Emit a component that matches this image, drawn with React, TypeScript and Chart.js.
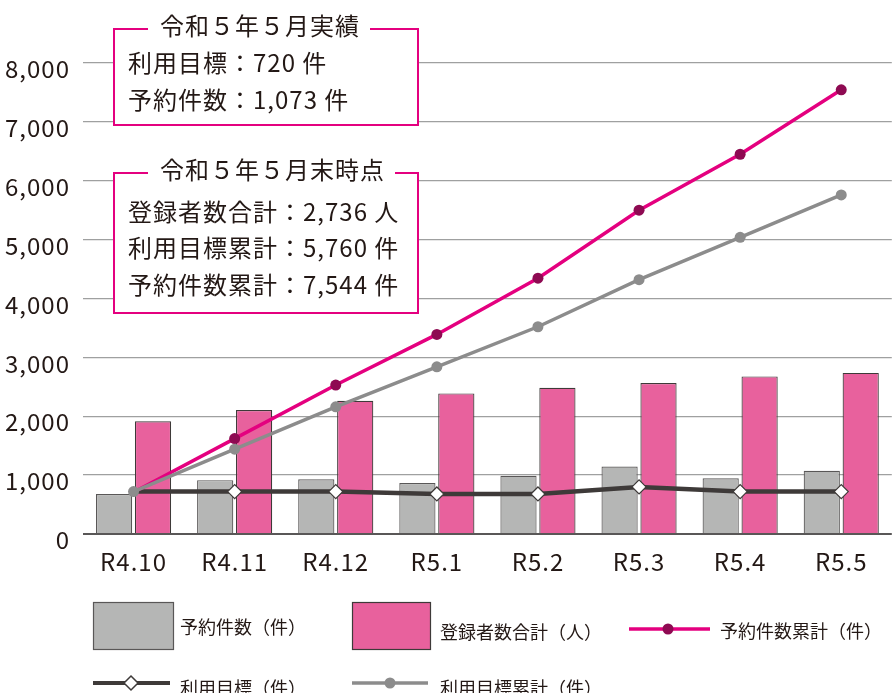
import React, { useEffect, useRef } from 'react';
import { Chart, registerables } from 'chart.js';

Chart.register(...registerables);

const categories = ['R4.10', 'R4.11', 'R4.12', 'R5.1', 'R5.2', 'R5.3', 'R5.4', 'R5.5'];
const bookings = [680, 915, 930, 865, 990, 1145, 945, 1073];
const registrants = [1913, 2105, 2263, 2388, 2484, 2564, 2677, 2736];
const bookingsCum = [710, 1620, 2530, 3390, 4345, 5500, 6450, 7544];
const targets = [720, 720, 720, 680, 680, 800, 720, 720];
const targetsCum = [720, 1440, 2160, 2840, 3520, 4320, 5040, 5760];
const yMin = 0;
const yMax = 8000;
const yStep = 1000;

const seriesNames = ['予約件数（件）', '登録者数合計（人）', '予約件数累計（件）', '利用目標（件）', '利用目標累計（件）'];
const box1Title = '令和５年５月実績';
const box1Lines = ['利用目標：720 件', '予約件数：1,073 件'];
const box2Title = '令和５年５月末時点';
const box2Lines = ['登録者数合計：2,736 人', '利用目標累計：5,760 件', '予約件数累計：7,544 件'];

const FONT = '"Noto Sans CJK JP", "Noto Sans", sans-serif';
const TEXT = '#231815';
const GRAY_BAR = '#b5b6b5';
const PINK_BAR = '#e8619d';
const MAGENTA = '#e4007f';
const MAROON = '#8e0a52';
const DARK = '#3e3a39';
const MID_GRAY = '#8c8c8c';

function drawBox(ctx: any, x: number, y: number, w: number, h: number, title: string, lines: string[], lineY: number[]) {
  ctx.save();
  ctx.letterSpacing = '1px';
  ctx.fillStyle = '#ffffff';
  ctx.fillRect(x, y, w, h);
  ctx.strokeStyle = MAGENTA;
  ctx.lineWidth = 2;
  ctx.strokeRect(x, y, w, h);
  ctx.font = `24px ${FONT}`;
  const tw = ctx.measureText(title).width;
  const tx = x + 46;
  ctx.fillStyle = '#ffffff';
  ctx.fillRect(tx - 12, y - 14, tw + 22, 28);
  ctx.fillStyle = TEXT;
  ctx.textBaseline = 'middle';
  ctx.textAlign = 'left';
  ctx.fillText(title, tx, y - 3);
  lines.forEach((t, i) => {
    ctx.fillText(t, x + 14, lineY[i]);
  });
  ctx.restore();
}

const spacingPlugin = {
  id: 'spacing',
  beforeDraw(chart: any) {
    chart.ctx.letterSpacing = '1px';
  },
};

const overlayPlugin = {
  id: 'overlay',
  afterDraw(chart: any) {
    const ctx: any = chart.ctx;
    drawBox(ctx, 114, 29, 304, 96, box1Title, box1Lines, [63, 100]);
    drawBox(ctx, 114, 173, 304, 140, box2Title, box2Lines, [212, 248, 285]);

    // legend
    ctx.save();
    ctx.letterSpacing = '0px';
    ctx.lineWidth = 1.2;
    ctx.fillStyle = GRAY_BAR;
    ctx.strokeStyle = '#595757';
    ctx.fillRect(93, 602, 80, 47);
    ctx.strokeRect(93.5, 602.5, 80, 47);
    ctx.fillStyle = PINK_BAR;
    ctx.strokeStyle = DARK;
    ctx.fillRect(352, 602, 78, 47);
    ctx.strokeRect(352.5, 602.5, 78, 47);

    // magenta line legend
    ctx.lineWidth = 3.5;
    ctx.strokeStyle = MAGENTA;
    ctx.beginPath(); ctx.moveTo(629, 629); ctx.lineTo(710, 629); ctx.stroke();
    ctx.fillStyle = MAROON;
    ctx.beginPath(); ctx.arc(668, 629, 5.5, 0, Math.PI * 2); ctx.fill();

    // dark line legend
    ctx.lineWidth = 4;
    ctx.strokeStyle = DARK;
    ctx.beginPath(); ctx.moveTo(93, 683); ctx.lineTo(170, 683); ctx.stroke();
    ctx.fillStyle = '#ffffff';
    ctx.lineWidth = 1.5;
    ctx.beginPath();
    ctx.moveTo(131, 676); ctx.lineTo(138, 683); ctx.lineTo(131, 690); ctx.lineTo(124, 683); ctx.closePath();
    ctx.fill(); ctx.stroke();

    // gray line legend
    ctx.lineWidth = 3.5;
    ctx.strokeStyle = MID_GRAY;
    ctx.beginPath(); ctx.moveTo(352, 683); ctx.lineTo(428, 683); ctx.stroke();
    ctx.fillStyle = MID_GRAY;
    ctx.beginPath(); ctx.arc(390, 683, 5.5, 0, Math.PI * 2); ctx.fill();

    ctx.fillStyle = TEXT;
    ctx.font = `18px ${FONT}`;
    ctx.textBaseline = 'middle';
    ctx.textAlign = 'left';
    ctx.fillText(seriesNames[0], 180, 627);
    ctx.fillText(seriesNames[1], 440, 632);
    ctx.fillText(seriesNames[2], 720, 631);
    ctx.fillText(seriesNames[3], 180, 688);
    ctx.fillText(seriesNames[4], 440, 688);
    ctx.restore();
  },
};

export default function App() {
  const ref = useRef<HTMLCanvasElement | null>(null);
  useEffect(() => {
    document.body.style.margin = '0';
    const canvas = ref.current;
    if (!canvas) return;
    const hideFirst = (r: number) => categories.map((_, i) => (i === 0 ? 0 : r));
    const chart = new Chart(canvas, {
      type: 'bar',
      data: {
        labels: categories,
        datasets: [
          {
            type: 'bar',
            label: seriesNames[0],
            data: bookings,
            backgroundColor: GRAY_BAR,
            borderColor: '#595757',
            borderWidth: 1.2,
            categoryPercentage: 0.77,
            barPercentage: 0.93,
            order: 10,
          },
          {
            type: 'bar',
            label: seriesNames[1],
            data: registrants,
            backgroundColor: PINK_BAR,
            borderColor: DARK,
            borderWidth: 1.2,
            categoryPercentage: 0.77,
            barPercentage: 0.93,
            order: 10,
          },
          {
            type: 'line',
            label: seriesNames[3],
            data: targets,
            borderColor: DARK,
            borderWidth: 4.5,
            pointStyle: 'rectRot',
            pointRadius: hideFirst(7),
            pointBackgroundColor: '#ffffff',
            pointBorderColor: DARK,
            pointBorderWidth: 1.2,
            tension: 0,
            order: 3,
          } as any,
          {
            type: 'line',
            label: seriesNames[2],
            data: bookingsCum,
            borderColor: MAGENTA,
            borderWidth: 3.5,
            pointRadius: hideFirst(5.5),
            pointBackgroundColor: MAROON,
            pointBorderColor: MAROON,
            pointBorderWidth: 0,
            tension: 0,
            order: 2,
          } as any,
          {
            type: 'line',
            label: seriesNames[4],
            data: targetsCum,
            borderColor: MID_GRAY,
            borderWidth: 3.5,
            pointRadius: 5.5,
            pointBackgroundColor: MID_GRAY,
            pointBorderColor: MID_GRAY,
            pointBorderWidth: 0,
            tension: 0,
            order: 1,
          } as any,
        ],
      },
      options: {
        responsive: false,
        animation: false,
        devicePixelRatio: 1,
        layout: { padding: { left: 0, right: 3, top: 63, bottom: 0 } },
        plugins: {
          legend: { display: false },
          tooltip: { enabled: false },
        },
        scales: {
          x: {
            grid: { display: false, drawTicks: false },
            border: { display: false },
            ticks: {
              color: TEXT,
              font: { family: FONT, size: 24 },
              padding: 13,
              maxRotation: 0,
              autoSkip: false,
            },
            afterFit: (s: any) => { s.height = 159; },
          },
          y: {
            min: yMin,
            max: yMax,
            border: { display: false },
            grid: {
              drawTicks: false,
              color: (c: any) => (c.tick && c.tick.value === 0 ? '#595757' : '#9fa0a0'),
              lineWidth: (c: any) => (c.tick && c.tick.value === 0 ? 2 : 1.3),
            },
            ticks: {
              stepSize: yStep,
              color: TEXT,
              font: { family: FONT, size: 24 },
              padding: 13,
              labelOffset: 6,
              callback: (v: any) => Number(v).toLocaleString('en-US'),
            },
            afterFit: (s: any) => { s.width = 83; },
          },
        },
      },
      plugins: [spacingPlugin, overlayPlugin],
    });
    return () => chart.destroy();
  }, []);
  return (
    <div style={{ position: 'absolute', left: 0, top: 0, width: 892, height: 693, overflow: 'hidden', background: '#fff' }}>
      <canvas ref={ref} width={900} height={693} style={{ width: 900, height: 693, display: 'block' }} />
    </div>
  );
}
